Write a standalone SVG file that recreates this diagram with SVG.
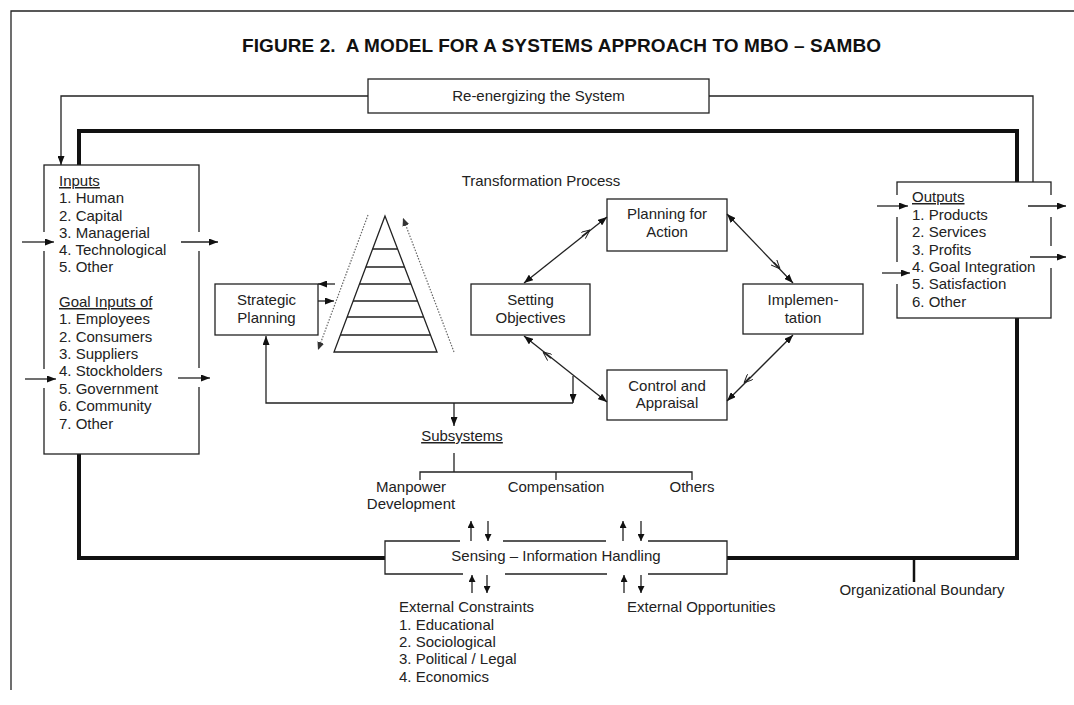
<svg xmlns="http://www.w3.org/2000/svg" width="1074" height="705" viewBox="0 0 1074 705">
<style>
text{font-family:"Liberation Sans",Arial,sans-serif;font-size:15px;fill:#222}
.c{text-anchor:middle}
.t{font-size:19px;font-weight:bold;fill:#111;white-space:pre}
.box{fill:#fff;stroke:#222;stroke-width:1.3}
.ln{fill:none;stroke:#222;stroke-width:1.3}
.thick{fill:none;stroke:#111;stroke-width:4}
.dot{fill:none;stroke:#666;stroke-width:1.2;stroke-dasharray:1.5 1.5}
.gap{fill:#fff;stroke:none}
.u{text-decoration:underline}
</style>
<defs>
<marker id="ah" viewBox="0 0 10 10" refX="10" refY="5" markerWidth="9" markerHeight="7" markerUnits="userSpaceOnUse" orient="auto-start-reverse" preserveAspectRatio="none"><path d="M0,0 L10,5 L0,10 z" fill="#111"/></marker>
<marker id="ahs" viewBox="0 0 10 10" refX="10" refY="5" markerWidth="7" markerHeight="7" markerUnits="userSpaceOnUse" orient="auto-start-reverse" preserveAspectRatio="none"><path d="M0,0 L10,5 L0,10 z" fill="#111"/></marker>
<marker id="ahd" viewBox="0 0 10 10" refX="10" refY="5" markerWidth="8" markerHeight="7" markerUnits="userSpaceOnUse" orient="auto" preserveAspectRatio="none"><path d="M0,0 L10,5 L0,10 z" fill="#333"/></marker>
<marker id="chev" viewBox="0 0 10 10" refX="10" refY="5" markerWidth="9" markerHeight="8" markerUnits="userSpaceOnUse" orient="auto" preserveAspectRatio="none"><path d="M0,0 L10,5 L0,10" fill="none" stroke="#222" stroke-width="1.2"/></marker>
</defs>
<rect width="1074" height="705" fill="#fff"/>

<g id="page-frame">
<path class="ln" d="M11,690 V11 H1074"/>
</g>

<g id="title"><text class="t" x="242" y="52" xml:space="preserve" textLength="639" lengthAdjust="spacing">FIGURE 2.  A MODEL FOR A SYSTEMS APPROACH TO MBO – SAMBO</text></g>

<g id="organizational-boundary">
<path class="thick" d="M79,165 V131 H1017 V182"/>
<path class="thick" d="M79,454 V558 H385"/>
<path class="thick" d="M727,558 H1017 V318"/>
<line x1="914" y1="558" x2="914" y2="582" stroke="#111" stroke-width="2.5"/>
<text class="c" x="922" y="595">Organizational Boundary</text>
</g>

<g id="transformation-label"><text class="c" x="541" y="186">Transformation Process</text></g>

<g id="re-energizing">
<rect class="box" x="368" y="79" width="341" height="34"/>
<text class="c" x="538.5" y="101">Re-energizing the System</text>
</g>

<g id="inputs">
<rect class="box" x="44" y="165" width="155" height="289"/>
<text x="59" y="186" class="u">Inputs</text>
<text x="59" y="203">1. Human</text>
<text x="59" y="221">2. Capital</text>
<text x="59" y="238">3. Managerial</text>
<text x="59" y="255">4. Technological</text>
<text x="59" y="272">5. Other</text>
<text x="59" y="307" class="u">Goal Inputs of</text>
<text x="59" y="324">1. Employees</text>
<text x="59" y="342">2. Consumers</text>
<text x="59" y="359">3. Suppliers</text>
<text x="59" y="376">4. Stockholders</text>
<text x="59" y="394">5. Government</text>
<text x="59" y="411">6. Community</text>
<text x="59" y="429">7. Other</text>
<rect class="gap" x="41" y="232" width="6" height="19"/>
<rect class="gap" x="196" y="232" width="6" height="19"/>
<rect class="gap" x="41" y="369" width="6" height="19"/>
<rect class="gap" x="196" y="368" width="6" height="19"/>
</g>

<g id="outputs">
<rect class="box" x="897" y="182" width="154" height="136"/>
<text x="912" y="202" class="u">Outputs</text>
<text x="912" y="220">1. Products</text>
<text x="912" y="237">2. Services</text>
<text x="912" y="255">3. Profits</text>
<text x="912" y="272">4. Goal Integration</text>
<text x="912" y="289">5. Satisfaction</text>
<text x="912" y="307">6. Other</text>
<rect class="gap" x="894" y="195" width="6" height="22"/>
<rect class="gap" x="894" y="262" width="6" height="22"/>
<rect class="gap" x="1048" y="195" width="6" height="22"/>
<rect class="gap" x="1048" y="246" width="6" height="22"/>
</g>

<g id="strategic-planning">
<rect class="box" x="215" y="284" width="103" height="51"/>
<text class="c" x="266.5" y="305">Strategic</text>
<text class="c" x="266.5" y="323">Planning</text>
</g>

<g id="pyramid">
<path class="ln" d="M385,216 L334,352 H437 Z"/>
<path class="ln" d="M372.6,249 H397.6 M365.8,267 H404.5 M359.4,284 H411 M353,301 H417.5 M347,317 H423.6 M340.3,335 H430.5"/>
</g>

<g id="setting-objectives">
<rect class="box" x="471" y="284" width="119" height="51"/>
<text class="c" x="530.5" y="305">Setting</text>
<text class="c" x="530.5" y="323">Objectives</text>
</g>

<g id="planning-for-action">
<rect class="box" x="607" y="199" width="120" height="52"/>
<text class="c" x="667" y="219">Planning for</text>
<text class="c" x="667" y="237">Action</text>
</g>

<g id="implementation">
<rect class="box" x="743" y="284" width="120" height="50"/>
<text class="c" x="803" y="305">Implemen-</text>
<text class="c" x="803" y="323">tation</text>
</g>

<g id="control-and-appraisal">
<rect class="box" x="607" y="370" width="120" height="50"/>
<text class="c" x="667" y="391">Control and</text>
<text class="c" x="667" y="408">Appraisal</text>
</g>

<g id="subsystems">
<text class="c u" x="462" y="441">Subsystems</text>
<text class="c" x="411" y="492">Manpower</text>
<text class="c" x="411" y="509">Development</text>
<text class="c" x="556" y="492">Compensation</text>
<text class="c" x="692" y="492">Others</text>
</g>

<g id="sensing">
<path class="ln" d="M460,541 H385 V574 H463 M505,574 H607 M648,574 H727 V541 H648 M606,541 H503"/>
<text class="c" x="556" y="561">Sensing – Information Handling</text>
</g>

<g id="external-constraints">
<text x="399" y="612">External Constraints</text>
<text x="399" y="630">1. Educational</text>
<text x="399" y="647">2. Sociological</text>
<text x="399" y="664">3. Political / Legal</text>
<text x="399" y="682">4. Economics</text>
</g>

<g id="external-opportunities"><text x="627" y="612">External Opportunities</text></g>

<g id="connectors">
<path class="ln" d="M368,96 H61 V165" marker-end="url(#ah)"/>
<path class="ln" d="M709,96 H1033 V182"/>
<line class="ln" x1="22" y1="242" x2="54" y2="242" marker-end="url(#ah)"/>
<line class="ln" x1="181" y1="242" x2="218" y2="242" marker-end="url(#ah)"/>
<line class="ln" x1="25" y1="379" x2="56" y2="379" marker-end="url(#ah)"/>
<line class="ln" x1="178" y1="378" x2="210" y2="378" marker-end="url(#ah)"/>
<line class="ln" x1="877" y1="206" x2="908" y2="206" marker-end="url(#ah)"/>
<line class="ln" x1="882" y1="273" x2="910" y2="273" marker-end="url(#ah)"/>
<line class="ln" x1="1028" y1="206" x2="1066" y2="206" marker-end="url(#ah)"/>
<line class="ln" x1="1030" y1="257" x2="1066" y2="257" marker-end="url(#ah)"/>
<line class="ln" x1="335" y1="284" x2="318" y2="284" marker-end="url(#ah)"/>
<line class="ln" x1="318" y1="301" x2="334" y2="301" marker-end="url(#ah)"/>
<line class="dot" x1="368" y1="215" x2="318" y2="350" marker-end="url(#ahd)"/>
<line class="dot" x1="454" y1="352" x2="403" y2="218" marker-end="url(#ahd)"/>
<line class="ln" x1="524" y1="283" x2="607" y2="217" marker-start="url(#ah)" marker-end="url(#ah)"/>
<line class="ln" x1="727" y1="214" x2="793" y2="283" marker-start="url(#ah)" marker-end="url(#ah)"/>
<line class="ln" x1="793" y1="335" x2="727" y2="401" marker-start="url(#ah)" marker-end="url(#ah)"/>
<line class="ln" x1="607" y1="402" x2="524" y2="336" marker-start="url(#ah)" marker-end="url(#ah)"/>
<path class="ln" d="M582,236.2 L590,230" marker-end="url(#chev)"/>
<path class="ln" d="M774,262.5 L780,268.8" marker-end="url(#chev)"/>
<path class="ln" d="M750,377 L744,383" marker-end="url(#chev)"/>
<path class="ln" d="M551,358.2 L543,352" marker-end="url(#chev)"/>
<path class="ln" d="M573,403 H266 V336" marker-end="url(#ah)"/>
<line class="ln" x1="573" y1="376" x2="573" y2="403" marker-end="url(#ah)"/>
<line class="ln" x1="454" y1="403" x2="454" y2="426" marker-end="url(#ah)"/>
<path class="ln" d="M454,453 V472 M420,480 V472 H692 V480 M556,472 V480"/>
<line class="ln" x1="471" y1="541" x2="471" y2="521" marker-end="url(#ahs)"/>
<line class="ln" x1="488" y1="521" x2="488" y2="541" marker-end="url(#ahs)"/>
<line class="ln" x1="623" y1="541" x2="623" y2="521" marker-end="url(#ahs)"/>
<line class="ln" x1="641" y1="521" x2="641" y2="541" marker-end="url(#ahs)"/>
<line class="ln" x1="472" y1="593" x2="472" y2="575" marker-end="url(#ahs)"/>
<line class="ln" x1="487" y1="575" x2="487" y2="593" marker-end="url(#ahs)"/>
<line class="ln" x1="624" y1="593" x2="624" y2="575" marker-end="url(#ahs)"/>
<line class="ln" x1="641" y1="575" x2="641" y2="593" marker-end="url(#ahs)"/>
</g>
</svg>
